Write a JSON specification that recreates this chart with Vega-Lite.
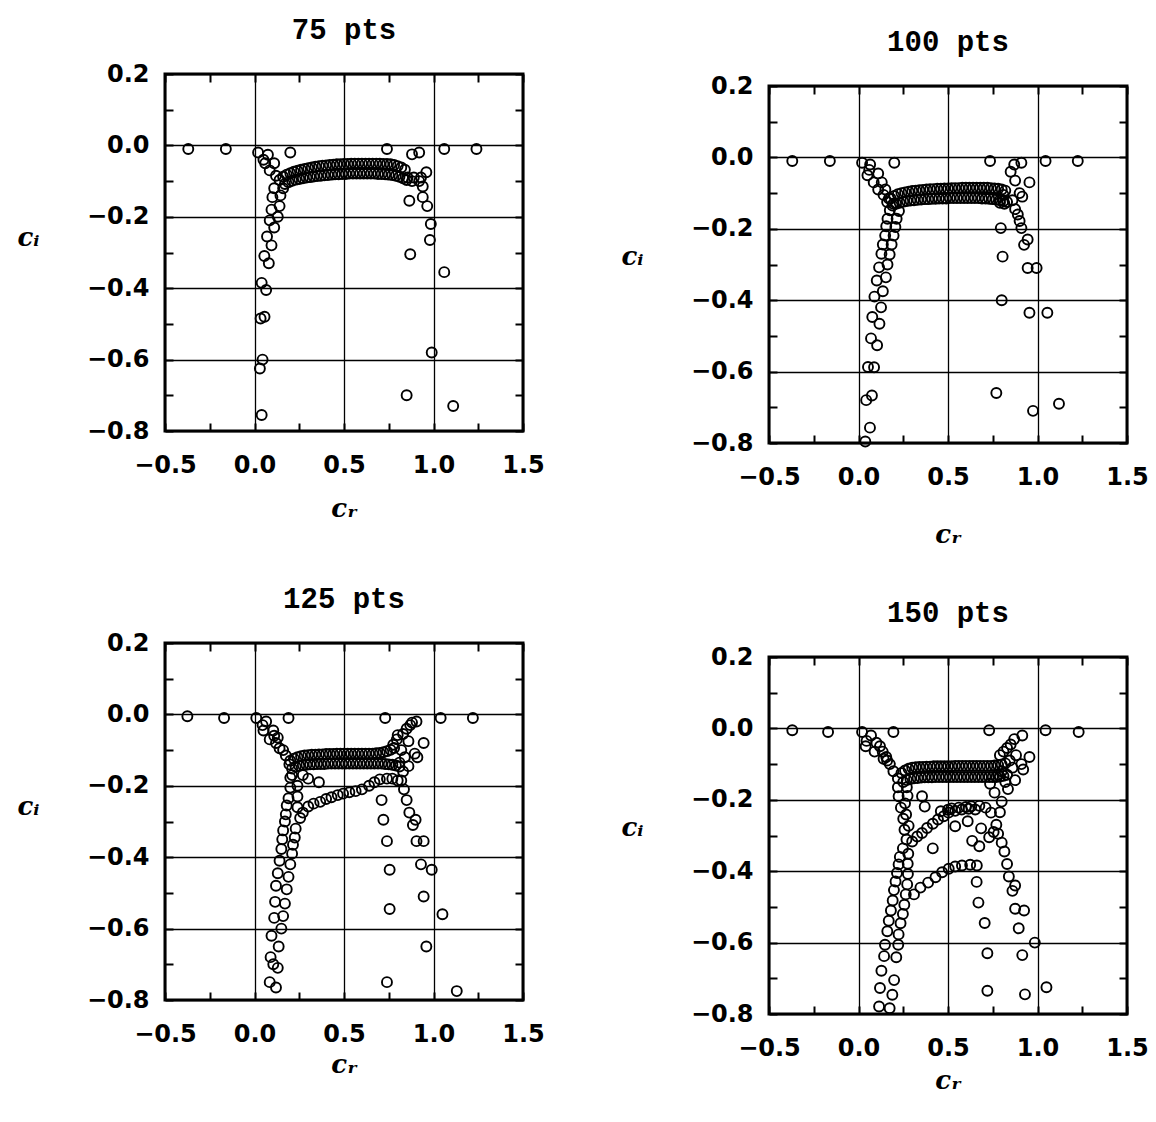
{
"$schema": "https://vega.github.io/schema/vega-lite/v6.json",
"background": "white",
"padding": {"left": 15, "top": 7, "right": 5, "bottom": 5},
"datasets": {
"d75": [
{"x":-0.37,"y":-0.01},{"x":-0.16,"y":-0.01},{"x":0.02,"y":-0.02},{"x":0.2,"y":-0.02},{"x":0.075,"y":-0.026},{"x":0.05,"y":-0.04},{"x":0.06,"y":-0.05},{"x":0.11,"y":-0.05},{"x":0.085,"y":-0.07},{"x":0.12,"y":-0.085},{"x":0.14,"y":-0.097},{"x":0.16,"y":-0.12},{"x":0.11,"y":-0.12},{"x":0.1,"y":-0.145},{"x":0.145,"y":-0.14},{"x":0.095,"y":-0.18},{"x":0.14,"y":-0.17},{"x":0.13,"y":-0.2},{"x":0.085,"y":-0.21},{"x":0.11,"y":-0.23},{"x":0.07,"y":-0.255},{"x":0.095,"y":-0.28},{"x":0.055,"y":-0.31},{"x":0.08,"y":-0.33},{"x":0.04,"y":-0.385},{"x":0.065,"y":-0.405},{"x":0.034,"y":-0.485},{"x":0.056,"y":-0.48},{"x":0.045,"y":-0.6},{"x":0.03,"y":-0.625},{"x":0.04,"y":-0.755},
{"x":0.74,"y":-0.01},{"x":1.06,"y":-0.01},{"x":1.24,"y":-0.01},{"x":0.92,"y":-0.02},{"x":0.88,"y":-0.025},{"x":0.96,"y":-0.075},{"x":0.93,"y":-0.09},{"x":0.89,"y":-0.09},{"x":0.855,"y":-0.09},{"x":0.88,"y":-0.1},{"x":0.92,"y":-0.1},{"x":0.94,"y":-0.115},{"x":0.94,"y":-0.145},{"x":0.965,"y":-0.17},{"x":0.865,"y":-0.155},{"x":0.985,"y":-0.22},{"x":0.98,"y":-0.265},{"x":0.87,"y":-0.305},{"x":1.06,"y":-0.355},{"x":0.99,"y":-0.58},{"x":0.85,"y":-0.7},{"x":1.11,"y":-0.73},
{"x":0.16,"y":-0.088},{"x":0.18,"y":-0.082},{"x":0.2,"y":-0.078},{"x":0.22,"y":-0.074},{"x":0.24,"y":-0.071},{"x":0.26,"y":-0.068},{"x":0.28,"y":-0.066},{"x":0.3,"y":-0.064},{"x":0.32,"y":-0.062},{"x":0.34,"y":-0.06},{"x":0.36,"y":-0.058},{"x":0.38,"y":-0.057},{"x":0.4,"y":-0.056},{"x":0.42,"y":-0.055},{"x":0.44,"y":-0.054},{"x":0.46,"y":-0.053},{"x":0.48,"y":-0.053},{"x":0.5,"y":-0.052},{"x":0.52,"y":-0.052},{"x":0.54,"y":-0.051},{"x":0.56,"y":-0.051},{"x":0.58,"y":-0.051},{"x":0.6,"y":-0.051},{"x":0.62,"y":-0.051},{"x":0.64,"y":-0.051},{"x":0.66,"y":-0.051},{"x":0.68,"y":-0.051},{"x":0.7,"y":-0.051},{"x":0.72,"y":-0.052},{"x":0.74,"y":-0.052},{"x":0.76,"y":-0.053},{"x":0.78,"y":-0.055},{"x":0.8,"y":-0.058},{"x":0.82,"y":-0.062},{"x":0.84,"y":-0.068},
{"x":0.17,"y":-0.108},{"x":0.19,"y":-0.103},{"x":0.21,"y":-0.099},{"x":0.23,"y":-0.096},{"x":0.25,"y":-0.094},{"x":0.27,"y":-0.092},{"x":0.29,"y":-0.09},{"x":0.31,"y":-0.089},{"x":0.33,"y":-0.087},{"x":0.35,"y":-0.086},{"x":0.37,"y":-0.085},{"x":0.39,"y":-0.084},{"x":0.41,"y":-0.083},{"x":0.43,"y":-0.082},{"x":0.45,"y":-0.081},{"x":0.47,"y":-0.081},{"x":0.49,"y":-0.08},{"x":0.51,"y":-0.08},{"x":0.53,"y":-0.079},{"x":0.55,"y":-0.079},{"x":0.57,"y":-0.079},{"x":0.59,"y":-0.079},{"x":0.61,"y":-0.079},{"x":0.63,"y":-0.079},{"x":0.65,"y":-0.079},{"x":0.67,"y":-0.079},{"x":0.69,"y":-0.08},{"x":0.71,"y":-0.08},{"x":0.73,"y":-0.081},{"x":0.75,"y":-0.082},{"x":0.77,"y":-0.083},{"x":0.79,"y":-0.085},{"x":0.81,"y":-0.088},{"x":0.83,"y":-0.092},{"x":0.85,"y":-0.097}
],
"d100": [
{"x":-0.37,"y":-0.01},{"x":-0.16,"y":-0.01},{"x":0.02,"y":-0.015},{"x":0.2,"y":-0.015},{"x":0.065,"y":-0.02},{"x":0.06,"y":-0.035},{"x":0.05,"y":-0.05},{"x":0.11,"y":-0.045},{"x":0.085,"y":-0.07},{"x":0.13,"y":-0.07},{"x":0.11,"y":-0.09},{"x":0.15,"y":-0.09},{"x":0.14,"y":-0.105},{"x":0.17,"y":-0.115},{"x":0.16,"y":-0.125},{"x":0.195,"y":-0.13},
{"x":0.175,"y":-0.148},{"x":0.162,"y":-0.172},{"x":0.155,"y":-0.193},{"x":0.149,"y":-0.219},{"x":0.136,"y":-0.244},{"x":0.128,"y":-0.27},{"x":0.115,"y":-0.308},{"x":0.102,"y":-0.345},{"x":0.089,"y":-0.39},{"x":0.077,"y":-0.447},{"x":0.07,"y":-0.507},{"x":0.053,"y":-0.587},{"x":0.043,"y":-0.68},{"x":0.064,"y":-0.757},{"x":0.038,"y":-0.796},
{"x":0.226,"y":-0.15},{"x":0.213,"y":-0.172},{"x":0.206,"y":-0.195},{"x":0.196,"y":-0.219},{"x":0.185,"y":-0.244},{"x":0.174,"y":-0.272},{"x":0.162,"y":-0.3},{"x":0.153,"y":-0.336},{"x":0.136,"y":-0.375},{"x":0.126,"y":-0.42},{"x":0.117,"y":-0.466},{"x":0.104,"y":-0.526},{"x":0.087,"y":-0.588},{"x":0.075,"y":-0.667},
{"x":0.18,"y":-0.115},{"x":0.2,"y":-0.108},{"x":0.22,"y":-0.103},{"x":0.24,"y":-0.1},{"x":0.26,"y":-0.098},{"x":0.28,"y":-0.096},{"x":0.3,"y":-0.094},{"x":0.32,"y":-0.093},{"x":0.34,"y":-0.092},{"x":0.36,"y":-0.091},{"x":0.38,"y":-0.09},{"x":0.4,"y":-0.089},{"x":0.42,"y":-0.089},{"x":0.44,"y":-0.088},{"x":0.46,"y":-0.088},{"x":0.48,"y":-0.087},{"x":0.5,"y":-0.087},{"x":0.52,"y":-0.086},{"x":0.54,"y":-0.086},{"x":0.56,"y":-0.086},{"x":0.58,"y":-0.085},{"x":0.6,"y":-0.085},{"x":0.62,"y":-0.085},{"x":0.64,"y":-0.085},{"x":0.66,"y":-0.085},{"x":0.68,"y":-0.085},{"x":0.7,"y":-0.085},{"x":0.72,"y":-0.085},{"x":0.74,"y":-0.086},{"x":0.76,"y":-0.087},{"x":0.78,"y":-0.088},{"x":0.8,"y":-0.09},{"x":0.82,"y":-0.093},
{"x":0.19,"y":-0.135},{"x":0.21,"y":-0.13},{"x":0.23,"y":-0.127},{"x":0.25,"y":-0.124},{"x":0.27,"y":-0.122},{"x":0.29,"y":-0.121},{"x":0.31,"y":-0.12},{"x":0.33,"y":-0.119},{"x":0.35,"y":-0.118},{"x":0.37,"y":-0.117},{"x":0.39,"y":-0.117},{"x":0.41,"y":-0.116},{"x":0.43,"y":-0.116},{"x":0.45,"y":-0.115},{"x":0.47,"y":-0.115},{"x":0.49,"y":-0.115},{"x":0.51,"y":-0.114},{"x":0.53,"y":-0.114},{"x":0.55,"y":-0.114},{"x":0.57,"y":-0.114},{"x":0.59,"y":-0.114},{"x":0.61,"y":-0.114},{"x":0.63,"y":-0.114},{"x":0.65,"y":-0.114},{"x":0.67,"y":-0.114},{"x":0.69,"y":-0.115},{"x":0.71,"y":-0.115},{"x":0.73,"y":-0.116},{"x":0.75,"y":-0.117},{"x":0.77,"y":-0.118},{"x":0.79,"y":-0.12},{"x":0.81,"y":-0.122},{"x":0.83,"y":-0.125},
{"x":0.735,"y":-0.01},{"x":1.045,"y":-0.01},{"x":1.225,"y":-0.01},{"x":0.91,"y":-0.015},{"x":0.87,"y":-0.02},{"x":0.85,"y":-0.04},{"x":0.955,"y":-0.07},{"x":0.875,"y":-0.065},{"x":0.9,"y":-0.1},{"x":0.915,"y":-0.11},{"x":0.81,"y":-0.105},{"x":0.79,"y":-0.127},{"x":0.815,"y":-0.13},{"x":0.86,"y":-0.12},{"x":0.875,"y":-0.145},{"x":0.89,"y":-0.16},{"x":0.9,"y":-0.178},{"x":0.91,"y":-0.198},{"x":0.795,"y":-0.198},{"x":0.945,"y":-0.23},{"x":0.925,"y":-0.245},{"x":0.805,"y":-0.278},{"x":0.945,"y":-0.31},{"x":0.995,"y":-0.31},{"x":0.8,"y":-0.4},{"x":0.955,"y":-0.435},{"x":1.055,"y":-0.435},{"x":0.77,"y":-0.66},{"x":0.975,"y":-0.71},{"x":1.12,"y":-0.69}
],
"d125": [
{"x":-0.375,"y":-0.005},{"x":-0.17,"y":-0.01},{"x":0.01,"y":-0.01},{"x":0.19,"y":-0.01},{"x":0.065,"y":-0.02},{"x":0.045,"y":-0.03},{"x":0.05,"y":-0.045},{"x":0.105,"y":-0.045},{"x":0.085,"y":-0.07},{"x":0.13,"y":-0.065},{"x":0.14,"y":-0.095},{"x":0.175,"y":-0.115},{"x":0.195,"y":-0.14},{"x":0.21,"y":-0.17},{"x":0.11,"y":-0.06},{"x":0.12,"y":-0.08},{"x":0.16,"y":-0.1},{"x":0.36,"y":-0.19},{"x":0.3,"y":-0.18},{"x":0.27,"y":-0.17},
{"x":0.255,"y":-0.29},{"x":0.27,"y":-0.275},{"x":0.3,"y":-0.258},{"x":0.33,"y":-0.25},{"x":0.367,"y":-0.245},{"x":0.4,"y":-0.237},{"x":0.43,"y":-0.232},{"x":0.465,"y":-0.226},{"x":0.495,"y":-0.222},{"x":0.53,"y":-0.218},{"x":0.565,"y":-0.215},{"x":0.6,"y":-0.21},{"x":0.64,"y":-0.2},{"x":0.67,"y":-0.19},{"x":0.7,"y":-0.182},{"x":0.74,"y":-0.18},{"x":0.77,"y":-0.18},{"x":0.8,"y":-0.185},
{"x":0.2,"y":-0.177},{"x":0.2,"y":-0.205},{"x":0.19,"y":-0.235},{"x":0.18,"y":-0.255},{"x":0.175,"y":-0.28},{"x":0.17,"y":-0.3},{"x":0.16,"y":-0.325},{"x":0.155,"y":-0.35},{"x":0.15,"y":-0.377},{"x":0.14,"y":-0.41},{"x":0.13,"y":-0.445},{"x":0.12,"y":-0.48},{"x":0.115,"y":-0.525},{"x":0.11,"y":-0.57},{"x":0.095,"y":-0.62},{"x":0.09,"y":-0.68},{"x":0.085,"y":-0.75},{"x":0.12,"y":-0.765},
{"x":0.24,"y":-0.2},{"x":0.24,"y":-0.23},{"x":0.24,"y":-0.26},{"x":0.23,"y":-0.32},{"x":0.225,"y":-0.345},{"x":0.215,"y":-0.365},{"x":0.21,"y":-0.39},{"x":0.2,"y":-0.42},{"x":0.19,"y":-0.455},{"x":0.18,"y":-0.49},{"x":0.17,"y":-0.53},{"x":0.16,"y":-0.565},{"x":0.15,"y":-0.6},{"x":0.135,"y":-0.65},{"x":0.13,"y":-0.71},{"x":0.105,"y":-0.7},
{"x":0.2,"y":-0.13},{"x":0.22,"y":-0.124},{"x":0.24,"y":-0.12},{"x":0.26,"y":-0.117},{"x":0.28,"y":-0.115},{"x":0.3,"y":-0.114},{"x":0.32,"y":-0.113},{"x":0.34,"y":-0.113},{"x":0.36,"y":-0.112},{"x":0.38,"y":-0.112},{"x":0.4,"y":-0.111},{"x":0.42,"y":-0.111},{"x":0.44,"y":-0.111},{"x":0.46,"y":-0.11},{"x":0.48,"y":-0.11},{"x":0.5,"y":-0.11},{"x":0.52,"y":-0.11},{"x":0.54,"y":-0.11},{"x":0.56,"y":-0.11},{"x":0.58,"y":-0.11},{"x":0.6,"y":-0.11},{"x":0.62,"y":-0.11},{"x":0.64,"y":-0.11},{"x":0.66,"y":-0.11},{"x":0.68,"y":-0.109},{"x":0.7,"y":-0.108},{"x":0.72,"y":-0.106},{"x":0.74,"y":-0.103},{"x":0.76,"y":-0.099},{"x":0.78,"y":-0.094},
{"x":0.21,"y":-0.152},{"x":0.23,"y":-0.147},{"x":0.25,"y":-0.144},{"x":0.27,"y":-0.142},{"x":0.29,"y":-0.141},{"x":0.31,"y":-0.14},{"x":0.33,"y":-0.14},{"x":0.35,"y":-0.139},{"x":0.37,"y":-0.139},{"x":0.39,"y":-0.139},{"x":0.41,"y":-0.138},{"x":0.43,"y":-0.138},{"x":0.45,"y":-0.138},{"x":0.47,"y":-0.138},{"x":0.49,"y":-0.138},{"x":0.51,"y":-0.138},{"x":0.53,"y":-0.138},{"x":0.55,"y":-0.138},{"x":0.57,"y":-0.138},{"x":0.59,"y":-0.138},{"x":0.61,"y":-0.138},{"x":0.63,"y":-0.138},{"x":0.65,"y":-0.138},{"x":0.67,"y":-0.138},{"x":0.69,"y":-0.138},{"x":0.71,"y":-0.138},{"x":0.73,"y":-0.139},{"x":0.75,"y":-0.14},{"x":0.77,"y":-0.141},{"x":0.79,"y":-0.143},{"x":0.81,"y":-0.146},
{"x":0.73,"y":-0.01},{"x":1.04,"y":-0.01},{"x":1.22,"y":-0.01},{"x":0.905,"y":-0.02},{"x":0.87,"y":-0.03},{"x":0.83,"y":-0.055},{"x":0.86,"y":-0.075},{"x":0.795,"y":-0.07},{"x":0.775,"y":-0.085},{"x":0.945,"y":-0.08},{"x":0.895,"y":-0.11},{"x":0.91,"y":-0.12},{"x":0.86,"y":-0.145},{"x":0.83,"y":-0.16},{"x":0.82,"y":-0.185},{"x":0.835,"y":-0.21},{"x":0.85,"y":-0.24},{"x":0.865,"y":-0.275},{"x":0.9,"y":-0.295},{"x":0.885,"y":-0.31},{"x":0.905,"y":-0.355},{"x":0.945,"y":-0.355},{"x":0.93,"y":-0.42},{"x":0.99,"y":-0.435},{"x":0.945,"y":-0.51},{"x":1.05,"y":-0.56},{"x":0.96,"y":-0.65},{"x":1.13,"y":-0.775},{"x":0.71,"y":-0.24},{"x":0.72,"y":-0.295},{"x":0.74,"y":-0.355},{"x":0.755,"y":-0.435},{"x":0.755,"y":-0.545},{"x":0.74,"y":-0.75},
{"x":0.8,"y":-0.058},{"x":0.85,"y":-0.04},{"x":0.88,"y":-0.023},{"x":0.82,"y":-0.1},{"x":0.84,"y":-0.12},{"x":0.81,"y":-0.135}
],
"d150": [
{"x":-0.37,"y":-0.005},{"x":-0.17,"y":-0.01},{"x":0.02,"y":-0.01},{"x":0.195,"y":-0.01},{"x":0.07,"y":-0.02},{"x":0.045,"y":-0.035},{"x":0.04,"y":-0.05},{"x":0.1,"y":-0.04},{"x":0.09,"y":-0.065},{"x":0.135,"y":-0.065},{"x":0.14,"y":-0.085},{"x":0.175,"y":-0.1},{"x":0.195,"y":-0.12},{"x":0.22,"y":-0.14},{"x":0.12,"y":-0.05},{"x":0.155,"y":-0.08},{"x":0.16,"y":-0.09},
{"x":0.22,"y":-0.165},{"x":0.224,"y":-0.19},{"x":0.237,"y":-0.222},{"x":0.25,"y":-0.253},{"x":0.257,"y":-0.284},{"x":0.248,"y":-0.336},{"x":0.231,"y":-0.36},{"x":0.224,"y":-0.381},{"x":0.215,"y":-0.405},{"x":0.207,"y":-0.429},{"x":0.198,"y":-0.453},{"x":0.191,"y":-0.482},{"x":0.181,"y":-0.51},{"x":0.169,"y":-0.539},{"x":0.161,"y":-0.568},{"x":0.148,"y":-0.606},{"x":0.143,"y":-0.638},{"x":0.128,"y":-0.679},{"x":0.12,"y":-0.727},{"x":0.115,"y":-0.779},
{"x":0.27,"y":-0.165},{"x":0.274,"y":-0.189},{"x":0.26,"y":-0.21},{"x":0.266,"y":-0.241},{"x":0.28,"y":-0.273},{"x":0.268,"y":-0.311},{"x":0.278,"y":-0.351},{"x":0.275,"y":-0.379},{"x":0.276,"y":-0.408},{"x":0.272,"y":-0.437},{"x":0.264,"y":-0.465},{"x":0.256,"y":-0.494},{"x":0.248,"y":-0.52},{"x":0.235,"y":-0.546},{"x":0.224,"y":-0.577},{"x":0.222,"y":-0.606},{"x":0.211,"y":-0.641},{"x":0.199,"y":-0.705},{"x":0.189,"y":-0.746},{"x":0.174,"y":-0.784},
{"x":0.3,"y":-0.317},{"x":0.328,"y":-0.303},{"x":0.355,"y":-0.293},{"x":0.383,"y":-0.279},{"x":0.415,"y":-0.267},{"x":0.444,"y":-0.255},{"x":0.476,"y":-0.246},{"x":0.503,"y":-0.236},{"x":0.54,"y":-0.231},{"x":0.577,"y":-0.227},{"x":0.615,"y":-0.225},{"x":0.652,"y":-0.227},{"x":0.46,"y":-0.232},{"x":0.5,"y":-0.228},{"x":0.52,"y":-0.224},{"x":0.56,"y":-0.222},{"x":0.6,"y":-0.22},{"x":0.63,"y":-0.218},{"x":0.675,"y":-0.217},{"x":0.71,"y":-0.222},{"x":0.74,"y":-0.236},
{"x":0.355,"y":-0.19},{"x":0.37,"y":-0.219},{"x":0.415,"y":-0.336},{"x":0.54,"y":-0.274},{"x":0.61,"y":-0.26},{"x":0.635,"y":-0.315},
{"x":0.31,"y":-0.465},{"x":0.346,"y":-0.446},{"x":0.389,"y":-0.432},{"x":0.43,"y":-0.417},{"x":0.467,"y":-0.403},{"x":0.504,"y":-0.393},{"x":0.54,"y":-0.387},{"x":0.578,"y":-0.384},{"x":0.624,"y":-0.382},{"x":0.661,"y":-0.384},{"x":0.66,"y":-0.43},{"x":0.67,"y":-0.488},
{"x":0.24,"y":-0.125},{"x":0.26,"y":-0.118},{"x":0.28,"y":-0.113},{"x":0.3,"y":-0.11},{"x":0.32,"y":-0.109},{"x":0.34,"y":-0.108},{"x":0.36,"y":-0.108},{"x":0.38,"y":-0.107},{"x":0.4,"y":-0.107},{"x":0.42,"y":-0.106},{"x":0.44,"y":-0.106},{"x":0.46,"y":-0.106},{"x":0.48,"y":-0.106},{"x":0.5,"y":-0.106},{"x":0.52,"y":-0.106},{"x":0.54,"y":-0.105},{"x":0.56,"y":-0.105},{"x":0.58,"y":-0.105},{"x":0.6,"y":-0.105},{"x":0.62,"y":-0.105},{"x":0.64,"y":-0.105},{"x":0.66,"y":-0.105},{"x":0.68,"y":-0.105},{"x":0.7,"y":-0.105},{"x":0.72,"y":-0.105},{"x":0.74,"y":-0.105},{"x":0.76,"y":-0.104},{"x":0.78,"y":-0.103},{"x":0.8,"y":-0.101},{"x":0.82,"y":-0.098},
{"x":0.25,"y":-0.15},{"x":0.27,"y":-0.145},{"x":0.29,"y":-0.142},{"x":0.31,"y":-0.14},{"x":0.33,"y":-0.139},{"x":0.35,"y":-0.138},{"x":0.37,"y":-0.137},{"x":0.39,"y":-0.137},{"x":0.41,"y":-0.137},{"x":0.43,"y":-0.136},{"x":0.45,"y":-0.136},{"x":0.47,"y":-0.136},{"x":0.49,"y":-0.136},{"x":0.51,"y":-0.136},{"x":0.53,"y":-0.136},{"x":0.55,"y":-0.136},{"x":0.57,"y":-0.136},{"x":0.59,"y":-0.136},{"x":0.61,"y":-0.136},{"x":0.63,"y":-0.136},{"x":0.65,"y":-0.136},{"x":0.67,"y":-0.136},{"x":0.69,"y":-0.136},{"x":0.71,"y":-0.136},{"x":0.73,"y":-0.136},{"x":0.75,"y":-0.136},{"x":0.77,"y":-0.136},{"x":0.79,"y":-0.135},{"x":0.81,"y":-0.133},{"x":0.83,"y":-0.13},
{"x":0.73,"y":-0.005},{"x":1.045,"y":-0.005},{"x":1.23,"y":-0.01},{"x":0.915,"y":-0.02},{"x":0.87,"y":-0.03},{"x":0.83,"y":-0.055},{"x":0.79,"y":-0.075},{"x":0.88,"y":-0.075},{"x":0.955,"y":-0.08},{"x":0.91,"y":-0.1},{"x":0.92,"y":-0.115},{"x":0.875,"y":-0.145},{"x":0.82,"y":-0.15},{"x":0.735,"y":-0.155},{"x":0.76,"y":-0.18},{"x":0.835,"y":-0.17},{"x":0.8,"y":-0.205},{"x":0.79,"y":-0.235},{"x":0.77,"y":-0.27},{"x":0.78,"y":-0.295},{"x":0.8,"y":-0.32},{"x":0.815,"y":-0.345},{"x":0.83,"y":-0.38},{"x":0.84,"y":-0.415},{"x":0.875,"y":-0.44},{"x":0.86,"y":-0.455},{"x":0.875,"y":-0.505},{"x":0.925,"y":-0.51},{"x":0.895,"y":-0.56},{"x":0.985,"y":-0.6},{"x":0.915,"y":-0.635},{"x":1.05,"y":-0.725},{"x":0.93,"y":-0.745},{"x":0.72,"y":-0.735},{"x":0.72,"y":-0.63},{"x":0.705,"y":-0.545},{"x":0.675,"y":-0.33},{"x":0.685,"y":-0.28},{"x":0.73,"y":-0.305},{"x":0.755,"y":-0.29},
{"x":0.81,"y":-0.065},{"x":0.85,"y":-0.045},{"x":0.845,"y":-0.09},{"x":0.86,"y":-0.11},{"x":0.8,"y":-0.12},{"x":0.78,"y":-0.13}
]
},
"hconcat": [
{"spacing": 0, "vconcat": [
{"width": 358, "height": 1, "data": {"values": [{"x": 0}]}, "mark": {"type": "point", "opacity": 0}, "encoding": {}, "view": {"stroke": null}},
{"spacing": 60, "vconcat": [
{"width": 358, "height": 357, "title": "75 pts", "data": {"name": "d75"},
 "resolve": {"axis": {"x": "independent", "y": "independent"}},
 "layer": [
  {"mark": {"type": "point", "shape": "circle", "filled": false, "size": 100, "strokeWidth": 1.9, "color": "black", "opacity": 1},
   "encoding": {
    "x": {"field": "x", "type": "quantitative", "scale": {"domain": [-0.5, 1.5], "nice": false, "zero": false},
     "axis": {"orient": "bottom", "values": [-0.5,-0.25,0,0.25,0.5,0.75,1,1.25,1.5], "labelExpr": "abs(round(datum.value*4))%2==0 ? format(datum.value,'.1f') : ''", "grid": true, "gridOpacity": {"condition": {"test": "abs(round(datum.value*4))%2==0", "value": 1}, "value": 0}, "labelPadding": 30, "labelOverlap": false, "labelFlush": false, "title": "cᵣ", "titleY": 64}},
    "y": {"field": "y", "type": "quantitative", "scale": {"domain": [-0.8, 0.2], "nice": false, "zero": false},
     "axis": {"orient": "left", "values": [-0.8,-0.7,-0.6,-0.5,-0.4,-0.3,-0.2,-0.1,0,0.1,0.2], "labelExpr": "abs(round(datum.value*10))%2==0 ? format(datum.value,'.1f') : ''", "grid": true, "gridOpacity": {"condition": {"test": "abs(round(datum.value*10))%2==0", "value": 1}, "value": 0}, "labelPadding": 24, "labelOverlap": false, "labelFlush": false, "title": "cᵢ", "titleAngle": 0, "titleX": -137, "titleY": 163, "titleAlign": "center", "titleBaseline": "middle"}}
   }},
  {"mark": {"type": "point", "opacity": 0},
   "encoding": {
    "x": {"field": "x", "type": "quantitative", "axis": {"orient": "top", "values": [-0.5,-0.25,0,0.25,0.5,0.75,1,1.25,1.5], "labels": false, "grid": false, "title": null}},
    "y": {"field": "y", "type": "quantitative", "axis": {"orient": "right", "values": [-0.8,-0.7,-0.6,-0.5,-0.4,-0.3,-0.2,-0.1,0,0.1,0.2], "labels": false, "grid": false, "title": null}}
   }}
 ]},
{"width": 358, "height": 357, "title": "125 pts", "data": {"name": "d125"},
 "resolve": {"axis": {"x": "independent", "y": "independent"}},
 "layer": [
  {"mark": {"type": "point", "shape": "circle", "filled": false, "size": 100, "strokeWidth": 1.9, "color": "black", "opacity": 1},
   "encoding": {
    "x": {"field": "x", "type": "quantitative", "scale": {"domain": [-0.5, 1.5], "nice": false, "zero": false},
     "axis": {"orient": "bottom", "values": [-0.5,-0.25,0,0.25,0.5,0.75,1,1.25,1.5], "labelExpr": "abs(round(datum.value*4))%2==0 ? format(datum.value,'.1f') : ''", "grid": true, "gridOpacity": {"condition": {"test": "abs(round(datum.value*4))%2==0", "value": 1}, "value": 0}, "labelPadding": 30, "labelOverlap": false, "labelFlush": false, "title": "cᵣ", "titleY": 51}},
    "y": {"field": "y", "type": "quantitative", "scale": {"domain": [-0.8, 0.2], "nice": false, "zero": false},
     "axis": {"orient": "left", "values": [-0.8,-0.7,-0.6,-0.5,-0.4,-0.3,-0.2,-0.1,0,0.1,0.2], "labelExpr": "abs(round(datum.value*10))%2==0 ? format(datum.value,'.1f') : ''", "grid": true, "gridOpacity": {"condition": {"test": "abs(round(datum.value*10))%2==0", "value": 1}, "value": 0}, "labelPadding": 24, "labelOverlap": false, "labelFlush": false, "title": "cᵢ", "titleAngle": 0, "titleX": -137, "titleY": 163, "titleAlign": "center", "titleBaseline": "middle"}}
   }},
  {"mark": {"type": "point", "opacity": 0},
   "encoding": {
    "x": {"field": "x", "type": "quantitative", "axis": {"orient": "top", "values": [-0.5,-0.25,0,0.25,0.5,0.75,1,1.25,1.5], "labels": false, "grid": false, "title": null}},
    "y": {"field": "y", "type": "quantitative", "axis": {"orient": "right", "values": [-0.8,-0.7,-0.6,-0.5,-0.4,-0.3,-0.2,-0.1,0,0.1,0.2], "labels": false, "grid": false, "title": null}}
   }}
 ]}
]}
]},
{"spacing": 0, "vconcat": [
{"width": 358, "height": 16, "data": {"values": [{"x": 0}]}, "mark": {"type": "point", "opacity": 0}, "encoding": {}, "view": {"stroke": null}},
{"spacing": 48, "vconcat": [
{"width": 358, "height": 357, "title": "100 pts", "data": {"name": "d100"},
 "resolve": {"axis": {"x": "independent", "y": "independent"}},
 "layer": [
  {"mark": {"type": "point", "shape": "circle", "filled": false, "size": 100, "strokeWidth": 1.9, "color": "black", "opacity": 1},
   "encoding": {
    "x": {"field": "x", "type": "quantitative", "scale": {"domain": [-0.5, 1.5], "nice": false, "zero": false},
     "axis": {"orient": "bottom", "values": [-0.5,-0.25,0,0.25,0.5,0.75,1,1.25,1.5], "labelExpr": "abs(round(datum.value*4))%2==0 ? format(datum.value,'.1f') : ''", "grid": true, "gridOpacity": {"condition": {"test": "abs(round(datum.value*4))%2==0", "value": 1}, "value": 0}, "labelPadding": 30, "labelOverlap": false, "labelFlush": false, "title": "cᵣ", "titleY": 78}},
    "y": {"field": "y", "type": "quantitative", "scale": {"domain": [-0.8, 0.2], "nice": false, "zero": false},
     "axis": {"orient": "left", "values": [-0.8,-0.7,-0.6,-0.5,-0.4,-0.3,-0.2,-0.1,0,0.1,0.2], "labelExpr": "abs(round(datum.value*10))%2==0 ? format(datum.value,'.1f') : ''", "grid": true, "gridOpacity": {"condition": {"test": "abs(round(datum.value*10))%2==0", "value": 1}, "value": 0}, "labelPadding": 24, "labelOverlap": false, "labelFlush": false, "title": "cᵢ", "titleAngle": 0, "titleX": -137, "titleY": 170, "titleAlign": "center", "titleBaseline": "middle"}}
   }},
  {"mark": {"type": "point", "opacity": 0},
   "encoding": {
    "x": {"field": "x", "type": "quantitative", "axis": {"orient": "top", "values": [-0.5,-0.25,0,0.25,0.5,0.75,1,1.25,1.5], "labels": false, "grid": false, "title": null}},
    "y": {"field": "y", "type": "quantitative", "axis": {"orient": "right", "values": [-0.8,-0.7,-0.6,-0.5,-0.4,-0.3,-0.2,-0.1,0,0.1,0.2], "labels": false, "grid": false, "title": null}}
   }}
 ]},
{"width": 358, "height": 357, "title": "150 pts", "data": {"name": "d150"},
 "resolve": {"axis": {"x": "independent", "y": "independent"}},
 "layer": [
  {"mark": {"type": "point", "shape": "circle", "filled": false, "size": 100, "strokeWidth": 1.9, "color": "black", "opacity": 1},
   "encoding": {
    "x": {"field": "x", "type": "quantitative", "scale": {"domain": [-0.5, 1.5], "nice": false, "zero": false},
     "axis": {"orient": "bottom", "values": [-0.5,-0.25,0,0.25,0.5,0.75,1,1.25,1.5], "labelExpr": "abs(round(datum.value*4))%2==0 ? format(datum.value,'.1f') : ''", "grid": true, "gridOpacity": {"condition": {"test": "abs(round(datum.value*4))%2==0", "value": 1}, "value": 0}, "labelPadding": 30, "labelOverlap": false, "labelFlush": false, "title": "cᵣ", "titleY": 53}},
    "y": {"field": "y", "type": "quantitative", "scale": {"domain": [-0.8, 0.2], "nice": false, "zero": false},
     "axis": {"orient": "left", "values": [-0.8,-0.7,-0.6,-0.5,-0.4,-0.3,-0.2,-0.1,0,0.1,0.2], "labelExpr": "abs(round(datum.value*10))%2==0 ? format(datum.value,'.1f') : ''", "grid": true, "gridOpacity": {"condition": {"test": "abs(round(datum.value*10))%2==0", "value": 1}, "value": 0}, "labelPadding": 24, "labelOverlap": false, "labelFlush": false, "title": "cᵢ", "titleAngle": 0, "titleX": -137, "titleY": 170, "titleAlign": "center", "titleBaseline": "middle"}}
   }},
  {"mark": {"type": "point", "opacity": 0},
   "encoding": {
    "x": {"field": "x", "type": "quantitative", "axis": {"orient": "top", "values": [-0.5,-0.25,0,0.25,0.5,0.75,1,1.25,1.5], "labels": false, "grid": false, "title": null}},
    "y": {"field": "y", "type": "quantitative", "axis": {"orient": "right", "values": [-0.8,-0.7,-0.6,-0.5,-0.4,-0.3,-0.2,-0.1,0,0.1,0.2], "labels": false, "grid": false, "title": null}}
   }}
 ]}
]}
]}
],
"spacing": 73,
"config": {
 "view": {"stroke": "black", "strokeWidth": 3},
 "axis": {"domain": false, "ticks": true, "tickColor": "black", "tickWidth": 2, "tickSize": -8, "labelFont": "DejaVu Sans", "labelFontWeight": "bold", "labelFontSize": 24, "labelColor": "black", "titleFont": "DejaVu Serif", "titleFontStyle": "italic", "titleFontWeight": "bold", "titleFontSize": 26, "titleColor": "black", "gridColor": "black", "gridWidth": 1.3},
 "title": {"font": "Liberation Mono", "fontWeight": "bold", "fontSize": 29, "color": "black", "anchor": "middle", "offset": 17}
}
}
